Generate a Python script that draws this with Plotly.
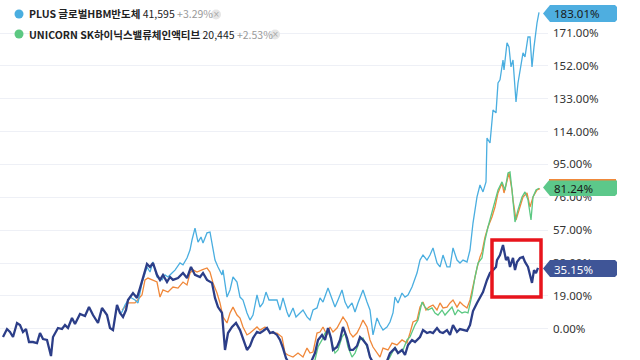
import plotly.graph_objects as go

# ---------------- data (cumulative return, %) ----------------
navy_x = [3, 7, 10, 13, 17, 20, 23, 26, 29, 33, 37, 40, 43, 47, 51, 53, 58, 62, 65, 68, 72, 75, 80, 85, 89, 93, 98, 102, 107, 110, 113, 117, 120, 123, 126, 128, 133, 137, 140, 143, 147, 150, 153, 157, 160, 163, 167, 170, 173, 178, 183, 187, 191, 195, 200, 203, 207, 212, 215, 218, 222, 225, 228, 232, 236, 240, 243, 247, 250, 253, 257, 260, 263, 267, 270, 273, 277, 280, 283, 286, 290, 300, 310, 315, 318, 322, 325, 328, 331, 333, 337, 340, 343, 347, 350, 353, 357, 360, 363, 367, 370, 375, 382, 387, 390, 395, 398, 402, 405, 408, 412, 415, 420, 423, 427, 430, 433, 437, 440, 443, 447, 450, 453, 457, 460, 463, 467, 470, 473, 477, 480, 483, 487, 490, 493, 496, 497, 500, 503, 506, 508, 510, 513, 515, 517, 520, 523, 525, 528, 532, 534, 536, 538]
navy_y = [-4.8, -0.2, -1.9, -4.8, 3.3, 2.1, -1.9, -0.2, -7.7, -7.7, -8.3, -2.5, -6.0, -6.5, -15.8, -4.8, 0.4, -0.2, 2.1, 0.4, 6.2, 2.7, 8.5, 7.3, 12.5, 7.9, 3.3, 12.0, 7.9, 0.4, -0.8, 13.7, 9.1, 6.8, 10.8, 16.6, 20.6, 17.8, 23.5, 29.9, 37.4, 35.7, 38.0, 31.1, 28.2, 31.1, 27.0, 29.9, 28.2, 29.3, 32.2, 29.3, 35.7, 31.1, 29.9, 32.2, 28.2, 26.5, 17.8, 12.5, 9.1, -12.3, -2.5, 1.0, 3.3, -0.8, -5.4, -12.3, -10.0, -5.4, -1.9, -2.5, -1.3, 0.4, -2.5, -1.9, -3.6, -6.5, -11.2, -17.0, -21.0, -22.7, -20.6, -14.1, -6.5, -3.6, -6.5, 0.4, -5.4, -12.3, -10.6, -6.5, 1.0, -5.4, -12.3, -12.3, -10.0, -4.8, -6.5, -9.4, -16.4, -21.6, -22.7, -18.7, -14.1, -11.2, -14.1, -12.3, -15.2, -9.4, -6.5, -7.7, -4.8, -0.8, -2.5, -1.9, -2.5, 0.4, -1.9, -2.5, -0.8, -3.6, 2.1, -1.9, -0.2, -0.8, -1.3, 2.1, 10.2, 14.9, 18.3, 21.2, 28.2, 32.2, 33.9, 35.7, 39.7, 42.6, 48.4, 39.7, 41.5, 35.7, 40.9, 33.9, 38.6, 40.9, 41.5, 38.6, 35.7, 26.5, 33.9, 32.2, 35.15]

blue_x = [120, 122, 125, 130, 135, 138, 142, 147, 150, 153, 157, 162, 165, 168, 172, 175, 180, 183, 187, 190, 192, 195, 198, 201, 203, 207, 210, 212, 215, 218, 222, 223, 227, 230, 233, 237, 240, 243, 247, 250, 253, 257, 260, 263, 266, 269, 273, 277, 280, 283, 287, 289, 293, 296, 300, 303, 307, 310, 313, 317, 320, 323, 328, 332, 335, 338, 342, 345, 348, 352, 355, 358, 363, 367, 370, 373, 377, 380, 383, 387, 390, 393, 395, 398, 402, 405, 408, 412, 417, 420, 423, 427, 430, 433, 437, 440, 443, 447, 450, 453, 457, 460, 463, 467, 470, 473, 477, 480, 483, 486, 487, 490, 493, 496, 498, 500, 503, 504, 507, 509, 511, 513, 514, 516, 518, 520, 523, 525, 528, 530, 532, 534, 536, 537, 539]
blue_y = [9.1, 9.7, 13.7, 18.3, 16.6, 14.9, 26.5, 35.7, 32.8, 38.6, 29.9, 28.2, 31.1, 29.9, 32.2, 33.9, 38.0, 36.9, 40.9, 45.5, 51.3, 58.2, 50.1, 53.0, 49.6, 55.4, 55.9, 49.6, 39.7, 35.7, 31.1, 34.0, 18.3, 22.4, 29.9, 27.0, 18.3, 16.6, 9.1, 5.0, 7.9, 19.5, 12.5, 14.9, 21.2, 16.6, 16.6, 16.6, 10.8, 17.8, 9.7, 6.8, 12.0, 6.8, 9.1, 10.8, 6.8, 5.0, 10.8, 12.0, 17.8, 15.4, 23.5, 16.6, 12.5, 16.6, 22.4, 15.4, 12.0, 14.9, 9.7, 14.9, 22.4, 15.4, 10.8, -3.6, 6.2, 2.1, -0.8, 1.0, 3.9, 9.1, 18.3, 14.9, 20.6, 18.3, 19.5, 24.1, 32.2, 39.7, 42.6, 39.7, 42.6, 46.7, 38.0, 35.7, 42.6, 35.7, 35.7, 46.7, 39.7, 38.0, 39.7, 38.6, 45.5, 61.1, 76.2, 83.1, 79.1, 84.9, 110.3, 107.4, 126.5, 124.8, 142.1, 143.9, 155.4, 149.7, 165.3, 163.0, 151.4, 155.4, 145.0, 131.1, 142.1, 149.7, 159.5, 157.2, 168.7, 168.7, 151.4, 163.0, 174.5, 176.8, 183.01]

orange_x = [122, 125, 128, 135, 142, 145, 148, 152, 157, 160, 163, 168, 173, 178, 183, 187, 190, 193, 197, 202, 207, 210, 213, 217, 220, 223, 227, 230, 233, 237, 240, 243, 247, 250, 253, 257, 260, 265, 270, 273, 277, 282, 285, 288, 293, 298, 303, 307, 310, 313, 317, 320, 323, 327, 330, 333, 337, 340, 343, 347, 350, 353, 357, 360, 363, 367, 370, 373, 377, 380, 383, 388, 392, 397, 402, 407, 410, 413, 417, 420, 423, 426, 429, 433, 437, 440, 443, 447, 450, 453, 457, 460, 463, 467, 470, 473, 477, 480, 482, 485, 488, 492, 495, 498, 502, 504, 507, 509, 512, 513, 516, 519, 523, 527, 530, 533, 537, 540]
orange_y = [10.8, 12.5, 14.9, 14.9, 19.5, 28.2, 29.3, 28.2, 27.0, 18.3, 22.4, 21.2, 24.1, 23.5, 27.0, 25.3, 32.2, 34.0, 32.8, 34.0, 35.1, 32.8, 26.5, 20.6, 14.9, 6.8, 3.3, 9.1, 12.5, 7.9, 6.2, 1.0, -3.6, -2.5, -0.8, 1.0, -0.8, 1.0, -1.9, -2.5, -2.5, -4.8, -14.1, -15.2, -16.4, -14.1, -16.4, -11.2, -14.1, -13.5, -2.5, -1.9, 1.0, -3.6, 1.0, -1.9, 0.4, 3.3, 6.8, 3.3, -2.5, -4.8, -2.5, 1.0, 5.0, 1.0, -6.5, -10.6, -14.1, -16.4, -11.2, -12.3, -8.3, -9.4, -6.5, -8.3, -2.5, 3.9, 5.0, 12.5, 15.4, 10.8, 12.5, 13.7, 10.8, 14.9, 12.0, 12.5, 14.9, 16.6, 12.5, 15.4, 13.7, 12.0, 16.6, 25.3, 35.1, 41.5, 44.4, 53.0, 58.8, 64.6, 70.4, 78.5, 84.3, 78.5, 86.0, 90.1, 80.2, 74.5, 62.9, 68.7, 76.2, 78.5, 70.4, 76.2, 80.2, 81.0]

green_x = [300, 310, 315, 318, 322, 325, 328, 332, 335, 338, 342, 345, 348, 352, 355, 360, 363, 367, 370, 375, 382, 387, 390, 395, 398, 403, 407, 410, 415, 418, 422, 425, 428, 432, 435, 438, 442, 445, 448, 452, 455, 458, 462, 465, 468, 472, 475, 478, 482, 485, 488, 492, 495, 498, 502, 505, 508, 510, 512, 515, 518, 522, 525, 528, 531, 533, 536, 539]
green_y = [-24.1, -21.6, -18.1, -10.6, -6.5, -2.5, -0.8, -7.7, -14.1, -12.3, -4.8, -2.5, -10.6, -16.4, -14.1, -6.5, -5.4, -10.6, -16.4, -21.6, -22.7, -19.3, -16.4, -10.6, -14.1, -12.3, -6.5, -4.8, 2.1, 5.0, 15.4, 12.5, 10.8, 12.0, 9.1, 7.9, 10.8, 7.9, 9.7, 12.5, 7.9, 10.8, 9.1, 9.7, 9.1, 19.5, 29.9, 38.0, 40.9, 51.3, 58.8, 66.9, 72.7, 80.2, 84.9, 80.2, 90.1, 90.6, 80.2, 61.7, 68.7, 76.2, 79.1, 74.5, 62.9, 76.2, 80.2, 81.24]

tick_vals = [0, 19, 38, 57, 76, 95, 114, 133, 152, 171]
tick_text = ["0.00%", "19.00%", "38.00%", "57.00%", "76.00%", "95.00%", "114.00%", "133.00%", "152.00%", "171.00%"]

legend_names = ["PLUS 글로벌HBM반도체", "UNICORN SK하이닉스밸류체인액티브"]
legend_prices = ["41,595", "20,445"]
legend_changes = ["+3.29%", "+2.53%"]
last_labels = ["183.01%", "81.24%", "35.15%"]

# ---------------- colours ----------------
C_NAVY = "#2c3e88"
C_BLUE = "#4aaee0"
C_ORANGE = "#f0883a"
C_GREEN = "#5cc882"

W, H = 640, 360
ML, MR = 0, 92
PW = W - ML - MR


def px(x):
    return (x - ML) / PW


def py(y):
    return 1 - y / H


fig = go.Figure()
fig.add_trace(go.Scatter(x=orange_x, y=orange_y, mode="lines", line=dict(color=C_ORANGE, width=1.3), showlegend=False, name="비교 A"))
fig.add_trace(go.Scatter(x=green_x, y=green_y, mode="lines", line=dict(color=C_GREEN, width=1.3), showlegend=False, name=legend_names[1]))
fig.add_trace(go.Scatter(x=blue_x, y=blue_y, mode="lines", line=dict(color=C_BLUE, width=1.3), showlegend=False, name=legend_names[0]))
fig.add_trace(go.Scatter(x=navy_x, y=navy_y, mode="lines", line=dict(color=C_NAVY, width=2.3), showlegend=False, name="비교 B"))

shapes = []
annotations = []

# red highlight box
shapes.append(dict(type="rect", xref="x", yref="y", x0=492, x1=541, y0=18.3, y1=51.3,
                   line=dict(color="#e8141c", width=3.5), fillcolor="rgba(0,0,0,0)", layer="above"))


def tag_path(ytop, ybot, xtip=543, xbody=550, xright=617):
    ym = (ytop + ybot) / 2
    pts = [(xtip, ym), (xbody, ytop), (xright - 2, ytop), (xright, ytop + 2),
           (xright, ybot - 2), (xright - 2, ybot), (xbody, ybot)]
    return "M " + " L ".join(f"{px(a):.5f},{py(b):.5f}" for a, b in pts) + " Z"


tags = [
    (5, 22, "#4eaee0", None, "#1a1a1a", last_labels[0]),
    (179, 196, "#5cc88a", C_ORANGE, "#1a1a1a", last_labels[1]),
    (260, 277, "#3f5597", None, "#ffffff", last_labels[2]),
]
for ytop, ybot, fill, topc, tc, txt in tags:
    shapes.append(dict(type="path", xref="paper", yref="paper", path=tag_path(ytop, ybot),
                       fillcolor=fill, line=dict(width=0), layer="above"))
    if topc:
        shapes.append(dict(type="line", xref="paper", yref="paper", x0=px(549), x1=px(616),
                           y0=py(ytop + 0.7), y1=py(ytop + 0.7), line=dict(color=topc, width=1.5), layer="above"))
    annotations.append(dict(xref="paper", yref="paper", x=px(552), y=py((ytop + ybot) / 2 + 0.5),
                            xanchor="left", yanchor="middle", showarrow=False, text=txt,
                            font=dict(size=11.5, color=tc, family="Noto Sans")))

# legend rows
leg_rows = [(14, C_BLUE, 0, 216), (34, C_GREEN, 1, 275)]
leg_font = "Noto Sans CJK KR, Noto Sans"
for yc, col, i, xclose in leg_rows:
    shapes.append(dict(type="circle", xref="paper", yref="paper", x0=px(14.5), x1=px(23.5),
                       y0=py(yc - 4.5), y1=py(yc + 4.5), fillcolor=col, line=dict(width=0), layer="above"))
    txt = (f"<b>{legend_names[i]}</b> {legend_prices[i]} "
           f"<span style='color:#9a9a9a'>{legend_changes[i]}</span>")
    annotations.append(dict(xref="paper", yref="paper", x=px(27), y=py(yc), xanchor="left", yanchor="middle",
                            showarrow=False, text=txt, font=dict(size=10.5, color="#222222", family=leg_font)))
    # close icon
    shapes.append(dict(type="circle", xref="paper", yref="paper", x0=px(xclose - 5), x1=px(xclose + 5),
                       y0=py(yc + 5.5), y1=py(yc - 4.5), fillcolor="#e6e6e6", line=dict(width=0), layer="above"))
    annotations.append(dict(xref="paper", yref="paper", x=px(xclose), y=py(yc + 0.5), xanchor="center",
                            yanchor="middle", showarrow=False, text="×", borderpad=0,
                            font=dict(size=8, color="#a8a8a8", family="DejaVu Sans")))

fig.update_layout(
    width=W, height=H,
    margin=dict(l=ML, r=MR, t=0, b=0),
    paper_bgcolor="white", plot_bgcolor="white",
    showlegend=False,
    hovermode=False,
    xaxis=dict(range=[0, PW], visible=False, fixedrange=True),
    yaxis=dict(range=[-18.1, 190.1], side="right", tickvals=tick_vals, ticktext=tick_text,
               showgrid=True, gridcolor="#eef0f6", gridwidth=1, zeroline=False, showline=False,
               ticks="", ticklabelstandoff=4, fixedrange=True,
               tickfont=dict(size=11.5, color="#333333", family="Noto Sans")),
    shapes=shapes,
    annotations=annotations,
    font=dict(family="Noto Sans"),
)

fig.write_html("out.html", config={"displayModeBar": False, "staticPlot": True},
               post_script="document.body.style.margin='0px';document.body.style.overflow='hidden';")
